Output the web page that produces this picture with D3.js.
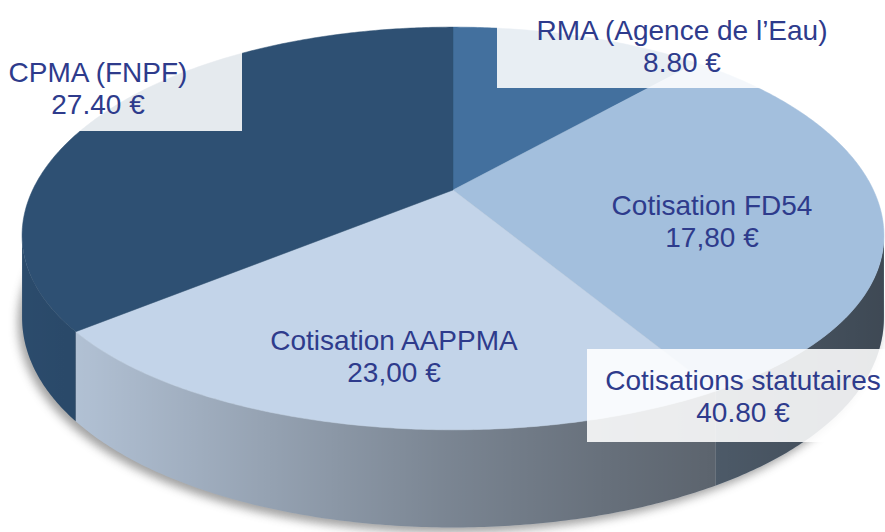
<!DOCTYPE html>
<html>
<head>
<meta charset="utf-8">
<script src="https://cdn.jsdelivr.net/npm/d3@7"></script>
<style>
  html, body { margin: 0; padding: 0; background: #ffffff; }
  svg { display: block; }
</style>
</head>
<body>
<svg id="chart" width="885" height="532"></svg>
<script>
// slices in the order they are drawn, clockwise from 12 o'clock
const sliceNames = ['RMA', 'FD54', 'AAPPMA', 'CPMA']
const sliceValues = [8.8, 23.0, 17.8, 27.4]
const sliceColors = ['#43709e', '#a3bfdd', '#c3d4e9', '#2e5073']

// text boxes
const labelTitles = ['RMA (Agence de l’Eau)', 'Cotisation FD54', 'Cotisation AAPPMA', 'CPMA (FNPF)', 'Cotisations statutaires']
const labelAmounts = ['8.80 €', '17,80 €', '23,00 €', '27.40 €', '40.80 €']

const W = 885, H = 532
// 3d disc projection
const cx = 453, cy = 190, rx = 423, ry = 194, persp = 0.191, thick = 79, sag = 12

function proj(t, z) {
  let u = Math.sin(t), v = -Math.cos(t), w = 1 - persp * v
  return [cx + rx * u / w, cy + ry * v / w + sag * u * u * (1 + v) / 2 + z * thick / w]
}

function arcPts(a0, a1, z) {
  let n = Math.max(4, Math.ceil((a1 - a0) / 0.01))
  return d3.range(n + 1).map(i => proj(a0 + (a1 - a0) * i / n, z))
}

let svg = d3.select('#chart')
let defs = svg.append('defs')

defs.append('filter').attr('id', 'blur')
  .attr('x', '-10%').attr('y', '-10%').attr('width', '120%').attr('height', '130%')
  .append('feGaussianBlur').attr('stdDeviation', 5)

let shade = defs.append('linearGradient').attr('id', 'wallShade')
  .attr('gradientUnits', 'userSpaceOnUse')
  .attr('x1', 0).attr('x2', W).attr('y1', 0).attr('y2', 0)
;[[0, 0.05], [0.1, 0.1], [0.5, 0.37], [0.68, 0.47], [1, 0.62]].forEach(s => {
  shade.append('stop').attr('offset', s[0]).attr('stop-color', '#000').attr('stop-opacity', s[1])
})

let color = d3.scaleOrdinal().domain(sliceNames).range(sliceColors)
let arcs = d3.pie().sort(null).value(d => d)(sliceValues)
let line = d3.line()

// shadow under the pie
svg.append('path')
  .attr('d', line(arcPts(0, 2 * Math.PI, 1)) + 'Z')
  .attr('transform', 'translate(-4,5)')
  .attr('fill', '#555')
  .attr('opacity', 0.55)
  .attr('filter', 'url(#blur)')

// front walls
let tR = Math.acos(-persp), tL = 2 * Math.PI - tR
let walls = svg.append('g')
arcs.forEach((d, i) => {
  let a0 = Math.max(d.startAngle, tR), a1 = Math.min(d.endAngle, tL)
  if (a1 <= a0) return
  let pts = arcPts(a0, a1, 0).concat(arcPts(a0, a1, 1).reverse())
  walls.append('path').attr('d', line(pts) + 'Z')
    .attr('fill', color(sliceNames[i]))
  walls.append('path').attr('d', line(pts) + 'Z')
    .attr('fill', 'url(#wallShade)')
})

// top faces
svg.append('g')
  .selectAll('path')
  .data(arcs)
  .join('path')
  .attr('d', d => line([[cx, cy]].concat(arcPts(d.startAngle, d.endAngle, 0))) + 'Z')
  .attr('fill', (d, i) => color(sliceNames[i]))
  .attr('stroke', (d, i) => color(sliceNames[i]))
  .attr('stroke-width', 0.5)

// labels
let boxes = [
  [497, 0, W - 497, 88],
  null,
  null,
  [0, 40, 242, 91],
  [587, 349, W - 587, 93]
]
let anchors = [[682, 40], [712, 215], [394, 350], [98, 82], [743, 390]]

let lg = svg.append('g')
boxes.forEach(b => {
  if (!b) return
  lg.append('rect')
    .attr('x', b[0]).attr('y', b[1]).attr('width', b[2]).attr('height', b[3])
    .attr('fill', '#ffffff').attr('opacity', 0.88)
})

labelTitles.forEach((t, i) => {
  let txt = lg.append('text')
    .attr('x', anchors[i][0]).attr('y', anchors[i][1])
    .attr('text-anchor', 'middle')
    .attr('fill', '#2e3b8c')
    .style('font-family', '"Liberation Sans", Arial, sans-serif')
    .style('font-size', '28px')
  txt.append('tspan').attr('x', anchors[i][0]).text(t)
  txt.append('tspan').attr('x', anchors[i][0]).attr('dy', 32).text(labelAmounts[i])
})
</script>
</body>
</html>
